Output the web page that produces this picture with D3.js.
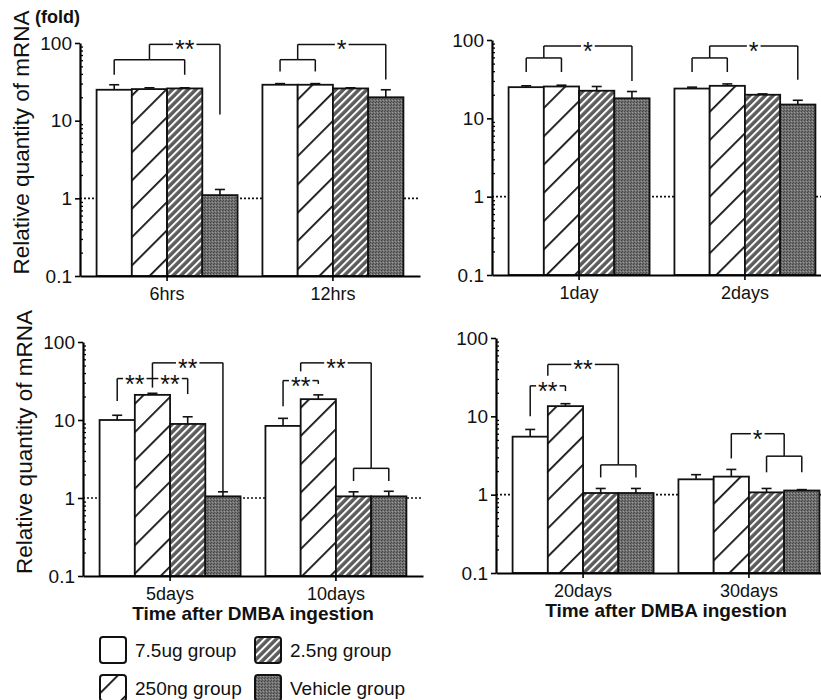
<!DOCTYPE html>
<html>
<head>
<meta charset="utf-8">
<script src="https://cdn.jsdelivr.net/npm/d3@7"></script>
<style>
  body { margin: 0; background: #fff; }
  text { font-family: "Liberation Sans", Arial, sans-serif; fill: #111; }
</style>
</head>
<body>
<div id="chart"></div>
<script>
const width = 821, height = 700;

// Data (fold, log scale)
const timePoints = ['6hrs', '12hrs', '1day', '2days', '5days', '10days', '20days', '30days'];
const groupNames = ['7.5ug group', '250ng group', '2.5ng group', 'Vehicle group'];

const mean75ug   = [25,   29,   25,   24,   10,   8.4,  5.5,  1.57];
const top75ug    = [29,   30,   26,   25,   11.5, 10.5, 6.8,  1.8];
const mean250ng  = [25.5, 29,   25.5, 26,   21,   18.5, 13.5, 1.7];
const top250ng   = [26.5, 30,   26.5, 27.5, 22,   21,   14.5, 2.1];
const mean25ng   = [26,   26,   22.5, 20,   8.9,  1.05, 1.05, 1.07];
const top25ng    = [26.5, 26.5, 25.5, 20.5, 11,   1.2,  1.2,  1.2];
const meanVeh    = [1.1,  20,   18,   15,   1.05, 1.05, 1.05, 1.13];
const topVeh     = [1.3,  25,   22,   17,   1.2,  1.22, 1.2,  1.16];

const yTicks = [0.1, 1, 10, 100];

// significance brackets: bar positions (0-3, may be fractional), level and leg ends in fold
const brackets = [
  { t: '6hrs',   x1: 0,   x2: 2, y: 61,  l1: 39,   l2: 39,   label: '' },
  { t: '6hrs',   x1: 1,   x2: 3, y: 96,  l1: 61,   l2: 12,   label: '**' },
  { t: '12hrs',  x1: 0,   x2: 1, y: 61,  l1: 43,   l2: 43,   label: '' },
  { t: '12hrs',  x1: 0.5, x2: 3, y: 96,  l1: 61,   l2: 34,   label: '*' },
  { t: '1day',   x1: 0,   x2: 1, y: 59,  l1: 39,   l2: 39,   label: '' },
  { t: '1day',   x1: 0.5, x2: 3, y: 84,  l1: 59,   l2: 30,   label: '*' },
  { t: '2days',  x1: 0,   x2: 1, y: 59,  l1: 39,   l2: 39,   label: '' },
  { t: '2days',  x1: 0.5, x2: 3, y: 84,  l1: 59,   l2: 31,   label: '*' },
  { t: '5days',  x1: 0,   x2: 1, y: 34,  l1: 17.5, l2: null, label: '**' },
  { t: '5days',  x1: 1,   x2: 2, y: 34,  l1: null, l2: 21.5, label: '**' },
  { t: '5days',  x1: 1,   x2: 3, y: 54,  l1: 26,   l2: 1.23, label: '**' },
  { t: '10days', x1: 0,   x2: 1, y: 32,  l1: 15,   l2: 29,   label: '**' },
  { t: '10days', x1: 2,   x2: 3, y: 2.4, l1: 1.65, l2: 1.65, label: '' },
  { t: '10days', x1: 0.5, x2: 2.5, y: 54, l1: 42,  l2: 2.4,  label: '**' },
  { t: '20days', x1: 0,   x2: 1, y: 24.5, l1: 10,  l2: 21,   label: '**' },
  { t: '20days', x1: 2,   x2: 3, y: 2.4, l1: 1.66, l2: 1.66, label: '' },
  { t: '20days', x1: 0.5, x2: 2.5, y: 46, l1: 33,  l2: 2.4,  label: '**' },
  { t: '30days', x1: 2,   x2: 3, y: 3.1, l1: 1.93, l2: 1.93, label: '' },
  { t: '30days', x1: 1,   x2: 2.5, y: 6, l1: 2.9,  l2: 3.1,  label: '*' }
];

const means = [mean75ug, mean250ng, mean25ng, meanVeh];
const tops = [top75ug, top250ng, top25ng, topVeh];
const fills = ['#fff', 'url(#p250)', 'url(#p25)', 'url(#pveh)'];

// panel layout
const panels = [
  { times: ['6hrs', '12hrs'],    xr: [80, 420],  yr: [276, 43],  ytitle: 1, xtitle: 0 },
  { times: ['1day', '2days'],    xr: [492, 832], yr: [275, 40],  ytitle: 0, xtitle: 0 },
  { times: ['5days', '10days'],  xr: [83, 423],  yr: [576, 342], ytitle: 1, xtitle: 1 },
  { times: ['20days', '30days'], xr: [496, 836], yr: [573, 338], ytitle: 0, xtitle: 1 }
];

const svg = d3.select('#chart').append('svg')
  .attr('width', width)
  .attr('height', height);

// fill patterns
const defs = svg.append('defs');
const p250 = defs.append('pattern').attr('id', 'p250')
  .attr('patternUnits', 'userSpaceOnUse').attr('width', 20).attr('height', 20)
  .attr('patternTransform', 'rotate(45)');
p250.append('rect').attr('width', 20).attr('height', 20).attr('fill', '#fff');
p250.append('rect').attr('x', 0).attr('width', 1.8).attr('height', 20).attr('fill', '#111');

const p25 = defs.append('pattern').attr('id', 'p25')
  .attr('patternUnits', 'userSpaceOnUse').attr('width', 5.5).attr('height', 5.5)
  .attr('patternTransform', 'rotate(45)');
p25.append('rect').attr('width', 5.5).attr('height', 5.5).attr('fill', '#5c5c5c');
p25.append('rect').attr('x', 0).attr('width', 2).attr('height', 5.5).attr('fill', '#fff');

const pveh = defs.append('pattern').attr('id', 'pveh')
  .attr('patternUnits', 'userSpaceOnUse').attr('width', 3).attr('height', 3);
pveh.append('rect').attr('width', 3).attr('height', 3).attr('fill', '#707070');
pveh.append('rect').attr('x', 0).attr('y', 0).attr('width', 1).attr('height', 1).attr('fill', '#444');
pveh.append('rect').attr('x', 2).attr('y', 1).attr('width', 1).attr('height', 1).attr('fill', '#999');
pveh.append('rect').attr('x', 1).attr('y', 2).attr('width', 1).attr('height', 1).attr('fill', '#4a4a4a');

panels.forEach(p => {
  const g = svg.append('g');

  const x = d3.scaleBand().domain(p.times).range(p.xr)
    .paddingInner(0.15).paddingOuter(0.1);
  const xb = d3.scaleBand().domain(d3.range(groupNames.length)).range([0, x.bandwidth()]);
  const y = d3.scaleLog().domain([0.1, 100]).range(p.yr);
  const barX = (t, b) => x(t) + xb.step() * (b + 0.5);

  // dotted reference at 1-fold
  g.append('line')
    .attr('x1', p.xr[0]).attr('x2', p.xr[1])
    .attr('y1', y(1)).attr('y2', y(1))
    .attr('stroke', '#111').attr('stroke-width', 1.6)
    .attr('stroke-dasharray', '2,2');

  // bars
  const rows = [];
  p.times.forEach(t => {
    const i = timePoints.indexOf(t);
    groupNames.forEach((s, k) => rows.push({ t, k, v: means[k][i], top: tops[k][i] }));
  });

  g.append('g').selectAll('rect')
    .data(rows)
    .enter()
    .append('rect')
    .attr('x', d => x(d.t) + xb(d.k))
    .attr('width', xb.bandwidth())
    .attr('y', d => y(d.v))
    .attr('height', d => y(0.1) - y(d.v))
    .attr('fill', d => fills[d.k])
    .attr('stroke', '#111')
    .attr('stroke-width', 1.8);

  // error bars (upper only)
  const err = g.append('g').attr('stroke', '#111').attr('stroke-width', 1.6);
  err.selectAll('line.v')
    .data(rows)
    .enter()
    .append('line')
    .attr('x1', d => barX(d.t, d.k)).attr('x2', d => barX(d.t, d.k))
    .attr('y1', d => y(d.v)).attr('y2', d => y(d.top));
  err.selectAll('line.c')
    .data(rows)
    .enter()
    .append('line')
    .attr('x1', d => barX(d.t, d.k) - 5).attr('x2', d => barX(d.t, d.k) + 5)
    .attr('y1', d => y(d.top)).attr('y2', d => y(d.top));

  // axes
  const yAxis = g.append('g')
    .attr('transform', `translate(${p.xr[0]},0)`)
    .call(d3.axisLeft(y).tickValues(yTicks).tickFormat(d3.format('~g')).tickSize(5).tickSizeOuter(0));
  yAxis.select('.domain').attr('stroke-width', 2.2);
  yAxis.selectAll('.tick line').attr('stroke-width', 1.6);
  yAxis.selectAll('.tick text').attr('font-size', 19).attr('x', -8);

  const minor = [];
  [0.1, 1, 10].forEach(dec => d3.range(2, 10).forEach(m => minor.push(dec * m)));
  const yMinor = g.append('g')
    .attr('transform', `translate(${p.xr[0]},0)`)
    .call(d3.axisRight(y).tickValues(minor).tickFormat('').tickSize(3));
  yMinor.select('.domain').remove();
  yMinor.selectAll('.tick line').attr('stroke-width', 1.3);

  const xAxis = g.append('g')
    .attr('transform', `translate(0,${y(0.1)})`)
    .call(d3.axisBottom(x).tickSize(5).tickSizeOuter(0));
  xAxis.select('.domain').attr('stroke-width', 2);
  xAxis.selectAll('.tick line').attr('stroke-width', 1.6);
  xAxis.selectAll('.tick text').attr('font-size', 18).attr('dy', '0.9em');

  // brackets
  const br = g.append('g').attr('stroke', '#111').attr('stroke-width', 1.5).attr('fill', 'none');
  brackets.filter(b => p.times.includes(b.t)).forEach(b => {
    const xa = barX(b.t, b.x1), xc = barX(b.t, b.x2), yl = y(b.y);
    let gapL = (xa + xc) / 2, gapR = gapL;
    if (b.label) {
      const lab = g.append('text')
        .attr('x', (xa + xc) / 2).attr('y', yl + 14)
        .attr('text-anchor', 'middle')
        .attr('font-size', 25)
        .attr('letter-spacing', 0)
        .text(b.label);
      const w = lab.node().getComputedTextLength();
      gapL = (xa + xc) / 2 - w / 2 - 2;
      gapR = (xa + xc) / 2 + w / 2 + 2;
    }
    br.append('line').attr('x1', xa).attr('x2', gapL).attr('y1', yl).attr('y2', yl);
    br.append('line').attr('x1', gapR).attr('x2', xc).attr('y1', yl).attr('y2', yl);
    if (b.l1 != null) br.append('line').attr('x1', xa).attr('x2', xa).attr('y1', yl).attr('y2', y(b.l1));
    if (b.l2 != null) br.append('line').attr('x1', xc).attr('x2', xc).attr('y1', yl).attr('y2', y(b.l2));
  });

  // titles
  if (p.ytitle) {
    g.append('text')
      .attr('transform', `translate(${p.xr[0] - 51},${(p.yr[0] + p.yr[1]) / 2 - 17}) rotate(-90)`)
      .attr('text-anchor', 'middle')
      .attr('font-size', 22.5)
      .text('Relative quantity of mRNA');
  }
  if (p.xtitle) {
    g.append('text')
      .attr('x', x(p.times[0]) + (x(p.times[1]) + x.bandwidth() - x(p.times[0])) / 2)
      .attr('y', y(0.1) + 44)
      .attr('text-anchor', 'middle')
      .attr('font-size', 19)
      .attr('font-weight', 'bold')
      .text('Time after DMBA ingestion');
  }
});

svg.append('text')
  .attr('x', 35).attr('y', 23)
  .attr('font-size', 18)
  .attr('font-weight', 'bold')
  .text('(fold)');

// legend
const legend = svg.append('g');
groupNames.forEach((name, k) => {
  const col = k < 2 ? 0 : 1;
  const row = k % 2;
  const lx = 100 + col * 155, ly = 637 + row * 38;
  legend.append('rect')
    .attr('x', lx).attr('y', ly)
    .attr('width', 26).attr('height', 26)
    .attr('rx', 3)
    .attr('fill', fills[k])
    .attr('stroke', '#111')
    .attr('stroke-width', 2);
  legend.append('text')
    .attr('x', lx + 35).attr('y', ly + 13)
    .attr('dy', '0.35em')
    .attr('font-size', 19)
    .text(name);
});
</script>
</body>
</html>
